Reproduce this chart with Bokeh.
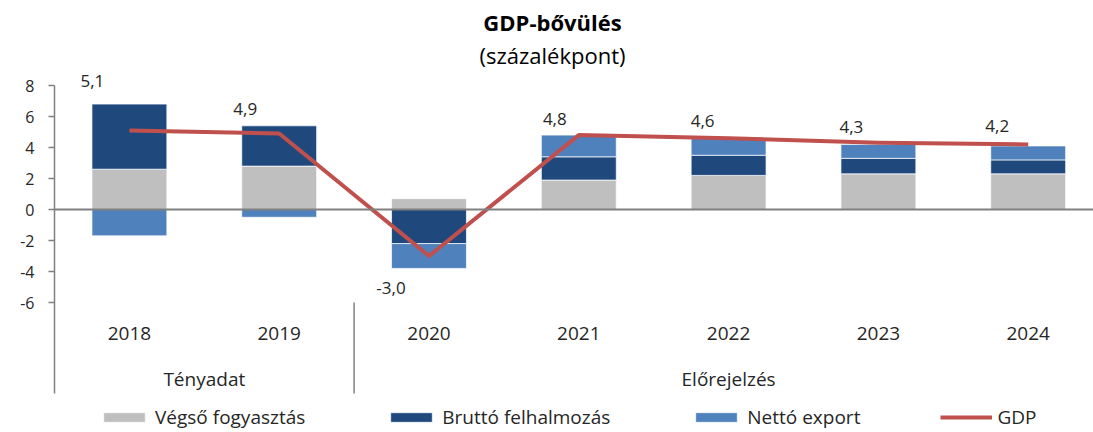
import numpy as np
from bokeh.plotting import figure
from bokeh.models import Range1d, FixedTicker, Span, Legend, LegendItem
from bokeh.core.properties import value
from bokeh.embed import file_html
from bokeh.resources import INLINE

# ---------------- data ----------------
years = ["2018", "2019", "2020", "2021", "2022", "2023", "2024"]
vegso_fogyasztas = [2.6, 2.8, 0.7, 1.9, 2.2, 2.3, 2.3]
brutto_felhalmozas = [4.2, 2.6, -2.2, 1.5, 1.3, 1.0, 0.9]
netto_export = [-1.7, -0.5, -1.6, 1.4, 1.1, 0.9, 0.9]
gdp = [5.1, 4.9, -3.0, 4.8, 4.6, 4.3, 4.2]
group_names = ["Tényadat", "Előrejelzés"]
group_members = [["2018", "2019"], ["2020", "2021", "2022", "2023", "2024"]]
series_names = ["Végső fogyasztás", "Bruttó felhalmozás", "Nettó export", "GDP"]
y_ticks = [-6, -4, -2, 0, 2, 4, 6, 8]
title_text = "GDP-bővülés"
subtitle_text = "(százalékpont)"

# ---------------- styling / layout ----------------
FONT = value("Open Sans")
C_GRAY = "#BFBFBF"
C_DARK = "#1F497D"
C_BLUE = "#4F81BD"
C_RED = "#C0504D"
C_AXIS = "#808080"
C_TEXT = "#262626"

W, H = 1093, 432
PAGE_X0, PAGE_Y0 = 0, 0
FRAME_LEFT = 54          # page px of x = -0.5
STEP = 149.8             # px per category
ZERO_Y = 209             # page px of y = 0
PX_PER_UNIT = 15.5


def px_to_x(px):
    return -0.5 + (px - FRAME_LEFT) / STEP


def px_to_y(py):
    return (ZERO_Y - py) / PX_PER_UNIT


x_range = Range1d(-0.5, px_to_x(PAGE_X0 + W))
y_range = Range1d(px_to_y(PAGE_Y0 + H), px_to_y(PAGE_Y0))

p = figure(width=W, height=H, x_range=x_range, y_range=y_range,
           output_backend="svg", toolbar_location=None,
           min_border_left=FRAME_LEFT - PAGE_X0, min_border_right=0,
           min_border_top=0, min_border_bottom=0,
           x_axis_location=None, outline_line_color=None)
p.grid.grid_line_color = None
p.background_fill_color = None
p.border_fill_color = "white"

xi = np.arange(len(years), dtype=float)

# stacked bars (positives up, negatives down)
pos = np.zeros(len(years))
neg = np.zeros(len(years))
bar_renderers = []
for vals, col in [(vegso_fogyasztas, C_GRAY), (brutto_felhalmozas, C_DARK), (netto_export, C_BLUE)]:
    v = np.array(vals, dtype=float)
    bottom = np.where(v >= 0, pos, neg)
    top = bottom + v
    pos = np.where(v >= 0, top, pos)
    neg = np.where(v < 0, top, neg)
    r = p.vbar(x=xi, width=0.5, bottom=bottom, top=top, fill_color=col,
               line_color="white", line_alpha=0.7, line_width=1)
    bar_renderers.append(r)

# zero line
p.add_layout(Span(location=0, dimension="width", line_color=C_AXIS, line_width=2))

# GDP line
gdp_r = p.line(x=xi, y=gdp, line_color=C_RED, line_width=4, line_join="round")

# GDP data labels
lab_dx = [-37, -34, -38, -24, -26, -27, -31]
lab_dy = [-49, -25, 32, -16, -17, -16, -18]
gdp_txt = [("%.1f" % g).replace(".", ",") for g in gdp]
p.text(x=xi, y=gdp, text=gdp_txt, x_offset=lab_dx, y_offset=lab_dy,
       text_align="center", text_baseline="alphabetic", text_font=FONT,
       text_font_size="17px", text_color=C_TEXT)

# y axis
sep_bottom = px_to_y(393)
ax = p.yaxis[0]
ax.ticker = FixedTicker(ticks=y_ticks)
ax.major_label_overrides = {t: str(t) for t in y_ticks}
ax.bounds = (sep_bottom, max(y_ticks))
ax.axis_line_color = C_AXIS
ax.axis_line_width = 1.5
ax.major_tick_line_color = C_AXIS
ax.major_tick_line_width = 1.5
ax.major_tick_in = 0
ax.major_tick_out = 6
ax.minor_tick_line_color = None
ax.major_label_text_font = "Open Sans"
ax.major_label_text_font_size = "16px"
ax.major_label_text_color = C_TEXT
ax.major_label_standoff = 14

# category labels
p.text(x=xi, y=[px_to_y(333)] * len(years), text=years, text_align="center",
       text_baseline="alphabetic", text_font=FONT, text_font_size="19px",
       text_color=C_TEXT)

# group labels and separators
gx = [float(np.mean([years.index(y) for y in m])) for m in group_members]
p.text(x=gx, y=[px_to_y(378)] * len(gx), text=group_names, text_align="center",
       text_baseline="alphabetic", text_font=FONT, text_font_size="19px",
       text_color=C_TEXT)
sep_x = [years.index(m[0]) - 0.5 for m in group_members[1:]]
p.segment(x0=sep_x, x1=sep_x, y0=[min(y_ticks)] * len(sep_x), y1=[sep_bottom] * len(sep_x),
          line_color=C_AXIS, line_width=1.5)

# title
p.text(x=[px_to_x(552)], y=[px_to_y(21)], text=[title_text], text_align="center",
       text_baseline="alphabetic", text_font=FONT, text_font_size="22px",
       text_font_style="bold", text_color="#000000")
p.text(x=[px_to_x(552)], y=[px_to_y(54)], text=[subtitle_text], text_align="center",
       text_baseline="alphabetic", text_font=FONT, text_font_size="22px",
       text_color="#000000")

# legend
items = [LegendItem(label=n, renderers=[r]) for n, r in zip(series_names, bar_renderers + [gdp_r])]
legend = Legend(items=items, orientation="horizontal", location=(44, 2),
                glyph_width=52, glyph_height=12, label_standoff=5, spacing=80,
                padding=0, margin=0, border_line_color=None, background_fill_alpha=0,
                label_text_font="Open Sans", label_text_font_size="19px",
                label_text_color=C_TEXT, label_height=16)
p.add_layout(legend)

open("out.html", "w").write(file_html(p, INLINE))
